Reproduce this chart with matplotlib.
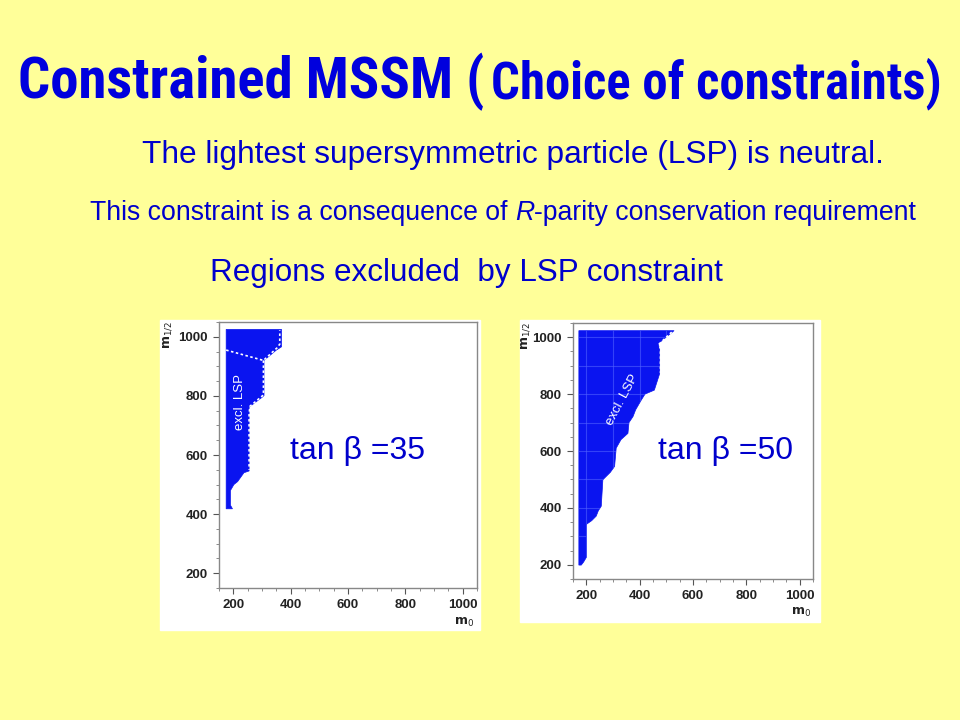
import matplotlib
matplotlib.use("Agg")
import matplotlib.pyplot as plt
from matplotlib import font_manager
from matplotlib.patches import Polygon, Rectangle
from matplotlib.ticker import MultipleLocator

# ---------- data ----------
title_big = "Constrained MSSM ("
title_small = "Choice of constraints)"
line_1 = "The lightest supersymmetric particle (LSP) is neutral."
line_2a = "This constraint is a consequence of "
line_2b = "R"
line_2c = "-parity conservation requirement"
line_3 = "Regions excluded  by LSP constraint"

ticks = [200, 400, 600, 800, 1000]

# tan beta = 35 : excluded region (m0, m1/2)
tb35_m0 = [175, 368, 368, 350, 307, 307, 300, 255, 255, 237, 215, 202, 190, 190, 197, 175]
tb35_m12 = [1025, 1025, 966, 955, 920, 801, 795, 762, 546, 540, 510, 500, 480, 430, 418, 418]
# dotted boundary lines inside it
tb35_line1_m0 = [175, 305, 352, 362, 362]
tb35_line1_m12 = [955, 920, 962, 975, 1022]
tb35_line2_m0 = [305, 305, 258, 255, 255]
tb35_line2_m12 = [920, 803, 765, 740, 550]

# tan beta = 50 : excluded region (m0, m1/2)
tb50_m0 = [172, 529, 469, 475, 475, 455, 420, 406, 385, 375, 360, 356, 330, 312,
           306, 290, 262, 256, 245, 237, 220, 200, 200, 190, 181, 172]
tb50_m12 = [1023, 1023, 977, 960, 872, 814, 800, 779, 745, 721, 700, 662, 640, 610,
            546, 525, 499, 406, 390, 371, 355, 342, 226, 210, 199, 199]
tb50_line_m0 = [520, 472, 478, 478]
tb50_line_m12 = [1018, 975, 960, 875]

bg = "#FFFF99"
txt_blue = "#0000CC"
fill_blue = "#0A14F0"


def find_narrow():
    # look for a condensed sans font among the installed ones
    names = []
    for f in font_manager.fontManager.ttflist:
        low = (f.name + " " + f.fname).lower()
        if "narrow" in low or "condensed" in low or f.stretch in ("condensed", "semi-condensed"):
            names.append(f.name)
    for pref in ["Liberation Sans Narrow", "Roboto Condensed", "Open Sans Condensed",
                 "DejaVu Sans Condensed", "Noto Sans Condensed"]:
        if pref in names:
            return pref
    return names[0] if names else None


def fit_text(fig, txt, width_px):
    # scale a text so that it takes the width seen on the slide
    r = fig.canvas.get_renderer()
    size = txt.get_fontsize()
    w = txt.get_window_extent(r).width
    txt.set_fontsize(size * width_px / w)


def panel(fig, box, axpos, m0, m12, label, label_xy, label_rot, tanb, tanb_xy):
    # white card behind the plot
    fig.patches.append(Rectangle((box[0] / 960, 1 - box[3] / 720),
                                 (box[2] - box[0]) / 960, (box[3] - box[1]) / 720,
                                 transform=fig.transFigure, color="white", zorder=-1))
    ax = fig.add_axes(axpos)
    ax.set_facecolor("white")
    ax.set_xlim(150, 1050)
    ax.set_ylim(150, 1050)
    ax.set_xticks(ticks)
    ax.set_yticks(ticks)
    ax.xaxis.set_minor_locator(MultipleLocator(50))
    ax.yaxis.set_minor_locator(MultipleLocator(50))
    ax.tick_params(which="major", length=4, width=0.8, color="#555555",
                   labelsize=9.5, labelcolor="#222222", pad=4)
    ax.tick_params(which="minor", length=2, width=0.6, color="#777777")
    for lab in ax.get_xticklabels() + ax.get_yticklabels():
        lab.set_fontweight("bold")
        lab.set_family("Liberation Sans")
    for s in ax.spines.values():
        s.set_color("#888888")
        s.set_linewidth(1.0)
    poly = Polygon(list(zip(m0, m12)), closed=True, facecolor=fill_blue,
                   edgecolor=fill_blue, linewidth=0.5)
    ax.add_patch(poly)
    ax.text(label_xy[0], label_xy[1], label, color="white", fontsize=9.5,
            rotation=label_rot, ha="center", va="center", family="Liberation Sans")
    ax.text(-0.2, 0.95, "m$_{1/2}$", transform=ax.transAxes, rotation=90,
            fontsize=9, color="#222222", ha="center", va="center", fontweight="bold")
    ax.text(0.95, -0.13, "m$_0$", transform=ax.transAxes,
            fontsize=9, color="#222222", ha="center", va="center", fontweight="bold")
    fig.text(tanb_xy[0] / 960, 1 - tanb_xy[1] / 720, tanb, color=txt_blue,
             fontsize=23, ha="center", va="center", family="Liberation Sans")
    return ax, poly


def main():
    fig = plt.figure(figsize=(9.6, 7.2), dpi=100, facecolor=bg)
    fig.canvas.draw()

    # ---------- title ----------
    nf = find_narrow()
    narrow = [nf, "Liberation Sans", "DejaVu Sans"] if nf else ["Liberation Sans", "DejaVu Sans"]
    tb = fig.text(18 / 960, 1 - 98 / 720, title_big, color="#0000DD", fontsize=42,
                  fontweight="bold", family=narrow, ha="left", va="baseline")
    ts = fig.text(942 / 960, 1 - 98 / 720, title_small, color="#0000DD", fontsize=36,
                  fontweight="bold", family=narrow, ha="right", va="baseline")
    fit_text(fig, tb, 467)
    fit_text(fig, ts, 451)

    # ---------- text lines ----------
    fig.text(513 / 960, 1 - 155 / 720, line_1, color=txt_blue, fontsize=22.8,
             family="Liberation Sans", ha="center", va="center")
    y2 = 1 - 213 / 720
    t = fig.text(90 / 960, y2, line_2a, color=txt_blue, fontsize=19.2,
                 family="Liberation Sans", ha="left", va="center")
    r = fig.canvas.get_renderer()
    x1 = t.get_window_extent(r).x1
    t2 = fig.text(x1 / 960, y2, line_2b, color=txt_blue, fontsize=19.2,
                  family="Liberation Sans", style="italic", ha="left", va="center")
    x2 = t2.get_window_extent(r).x1
    fig.text(x2 / 960, y2, line_2c, color=txt_blue, fontsize=19.2,
             family="Liberation Sans", ha="left", va="center")
    fig.text(466 / 960, 1 - 273 / 720, line_3, color=txt_blue, fontsize=22.6,
             family="Liberation Sans", ha="center", va="center")

    # ---------- panel tan beta = 35 ----------
    ax1, p1 = panel(fig, (160, 320, 480, 630), [219 / 960, 1 - 588 / 720, 258 / 960, 266 / 720],
                    tb35_m0, tb35_m12, "excl. LSP", (224, 780), 90,
                    "tan β =35", (357, 451))
    ax1.plot(tb35_line1_m0, tb35_line1_m12, color="white", ls=(0, (1.5, 1.5)), lw=1.2)
    ax1.plot(tb35_line2_m0, tb35_line2_m12, color="white", ls=(0, (1.5, 1.5)), lw=1.2)

    # ---------- panel tan beta = 50 ----------
    ax2, p2 = panel(fig, (520, 320, 820, 622), [573 / 960, 1 - 579 / 720, 240 / 960, 256 / 720],
                    tb50_m0, tb50_m12, "excl. LSP", (337, 779), 62,
                    "tan β =50", (725, 451))
    # faint grid showing through the filled region
    for v in range(200, 1001, 100):
        for ln in (ax2.axvline(v, color="#5060FF", lw=0.8, alpha=0.6),
                   ax2.axhline(v, color="#5060FF", lw=0.8, alpha=0.6)):
            ln.set_clip_path(p2)
    ax2.plot(tb50_line_m0, tb50_line_m12, color="white", ls=(0, (1.5, 1.5)), lw=1.2)

    fig.savefig("out.png", dpi=100, facecolor=bg)


if __name__ == "__main__":
    main()
